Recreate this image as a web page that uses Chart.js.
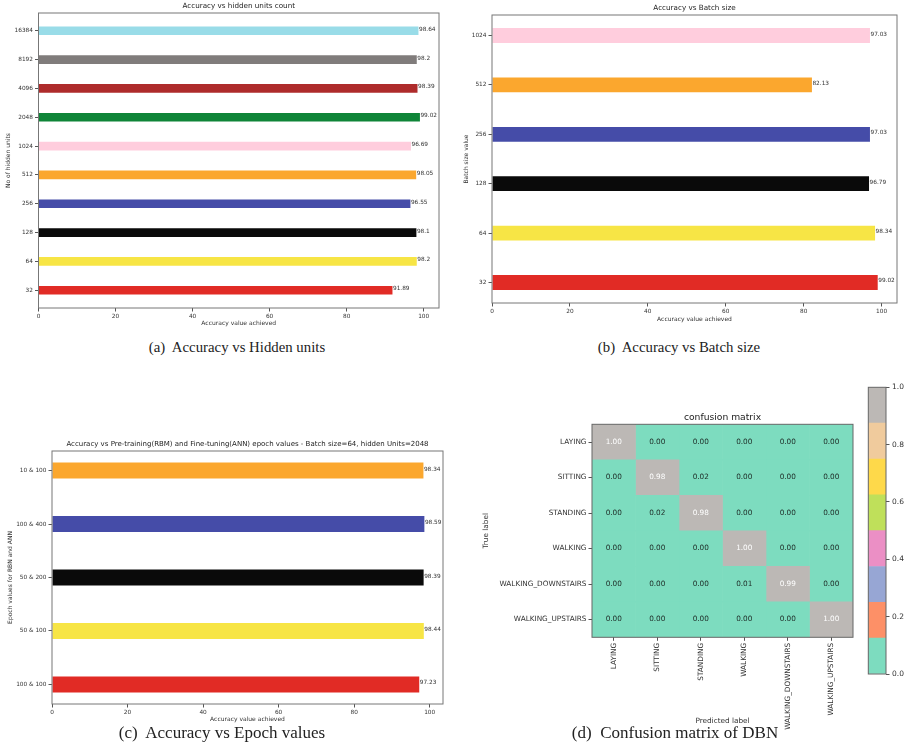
<!DOCTYPE html>
<html>
<head>
<meta charset="utf-8">
<script src="https://cdn.jsdelivr.net/npm/chart.js@4.4.0/dist/chart.umd.min.js"></script>
<style>
  body { margin: 0; background: #fff; width: 907px; height: 749px; position: relative; overflow: hidden; }
  .pane { position: absolute; }
  .cap { position: absolute; font-family: "Liberation Serif", serif; color: #222; white-space: pre; transform: translate(-50%, -50%); }
</style>
</head>
<body>
<div class="pane" style="left:0;top:0;width:450px;height:330px"><canvas id="chartUnits"></canvas></div>
<div class="pane" style="left:450px;top:0;width:457px;height:326px"><canvas id="chartBatch"></canvas></div>
<div class="pane" style="left:0;top:430px;width:450px;height:296px"><canvas id="chartEpoch"></canvas></div>
<div class="pane" style="left:470px;top:380px;width:390px;height:350px"><canvas id="chartMatrix"></canvas></div>
<div class="pane" style="left:860px;top:370px;width:47px;height:320px"><canvas id="chartCbar"></canvas></div>

<div class="cap" style="left:237px;top:347px;font-size:14.8px">(a)  Accuracy vs Hidden units</div>
<div class="cap" style="left:679px;top:347px;font-size:14.8px">(b)  Accuracy vs Batch size</div>
<div class="cap" style="left:222px;top:733px;font-size:17px">(c)  Accuracy vs Epoch values</div>
<div class="cap" style="left:675px;top:733px;font-size:17px">(d)  Confusion matrix of DBN</div>

<script>
// données
const unitLabels = ['32', '64', '128', '256', '512', '1024', '2048', '4096', '8192', '16384'];
const unitAcc = [91.89, 98.2, 98.1, 96.55, 98.05, 96.69, 99.02, 98.39, 98.2, 98.64];
const unitColors = ['#e12b25', '#f7e545', '#0a0a0a', '#454ca8', '#fba72e', '#ffcddd', '#0f8538', '#ae2b2b', '#807c7b', '#99dce8'];

const batchLabels = ['32', '64', '128', '256', '512', '1024'];
const batchAcc = [99.02, 98.34, 96.79, 97.03, 82.13, 97.03];
const batchColors = ['#e12b25', '#f7e545', '#0a0a0a', '#454ca8', '#fba72e', '#ffcddd'];

const epochLabels = ['100 & 100', '50 & 100', '50 & 200', '100 & 400', '10 & 100'];
const epochAcc = [97.23, 98.44, 98.39, 98.59, 98.34];
const epochColors = ['#e12b25', '#f7e545', '#0a0a0a', '#454ca8', '#fba72e'];

const cmLabels = ['LAYING', 'SITTING', 'STANDING', 'WALKING', 'WALKING_DOWNSTAIRS', 'WALKING_UPSTAIRS'];
const cmValues = [
  [1.00, 0.00, 0.00, 0.00, 0.00, 0.00],
  [0.00, 0.98, 0.02, 0.00, 0.00, 0.00],
  [0.00, 0.02, 0.98, 0.00, 0.00, 0.00],
  [0.00, 0.00, 0.00, 1.00, 0.00, 0.00],
  [0.00, 0.00, 0.00, 0.01, 0.99, 0.00],
  [0.00, 0.00, 0.00, 0.00, 0.00, 1.00]
];
const cellWidth = [1, 1, 1, 1, 1, 1];
// palette Set2 (8 niveaux)
const cmColors = ['#7ddcbf', '#fd9067', '#97a6d4', '#eb8fc5', '#bfe05a', '#fed94a', '#f0cb9d', '#bcb8b5'];
const cbarEdges = [0, 0.125, 0.25, 0.375, 0.5, 0.625, 0.75, 0.875, 1];

const FONT = '"DejaVu Sans", sans-serif';
const INK = '#333';

// cadre autour de la zone de tracé
const frame = {
  id: 'frame',
  afterDatasetsDraw(chart, args, opts) {
    const a = chart.chartArea, c = chart.ctx;
    c.save();
    c.strokeStyle = opts.color || '#777';
    c.lineWidth = 1;
    c.strokeRect(a.left, a.top, a.right - a.left, a.bottom - a.top);
    c.restore();
  }
};

const plotTitle = {
  id: 'plotTitle',
  afterDraw(chart, args, opts) {
    if (!opts.text) return;
    const a = chart.chartArea, c = chart.ctx;
    c.save();
    c.font = opts.size + 'px ' + FONT;
    c.fillStyle = '#222';
    c.textAlign = 'center';
    c.textBaseline = 'middle';
    c.fillText(opts.text, (a.left + a.right) / 2, a.top - opts.offset);
    c.restore();
  }
};

const barValues = {
  id: 'barValues',
  afterDatasetsDraw(chart) {
    const c = chart.ctx, ds = chart.data.datasets[0];
    c.save();
    c.font = '5.8px ' + FONT;
    c.fillStyle = INK;
    c.textBaseline = 'alphabetic';
    chart.getDatasetMeta(0).data.forEach((bar, i) => {
      c.fillText(String(ds.data[i].x), bar.x + 0.5, bar.y);
    });
    c.restore();
  }
};

const tickGrid = { drawOnChartArea: false, drawTicks: true, tickLength: 3.5, color: '#555', offset: false };

function accuracyChart(id, labels, values, colors, o) {
  const pad = 0.15 + 0.05 * (labels.length - 1 + 0.3);
  return new Chart(document.getElementById(id), {
    type: 'bar',
    data: {
      datasets: [{
        data: values.map((v, i) => ({ x: v, y: i })),
        backgroundColor: colors,
        barPercentage: 0.3,
        categoryPercentage: 1,
        borderWidth: 0
      }]
    },
    options: {
      indexAxis: 'y',
      responsive: true,
      maintainAspectRatio: false,
      animation: false,
      layout: { padding: o.padding },
      plugins: {
        legend: { display: false },
        tooltip: { enabled: false },
        plotTitle: { text: o.title, offset: o.titleOffset, size: o.titleSize || 7.2 }
      },
      scales: {
        x: {
          type: 'linear', bounds: 'data', offset: false, min: 0, max: Math.max(...values) * 1.05,
          ticks: { stepSize: 20, includeBounds: false, font: { family: FONT, size: 5.8 }, color: INK, padding: 1.5 },
          grid: tickGrid,
          border: { display: false },
          title: { display: true, text: 'Accuracy value achieved', font: { family: FONT, size: 6 }, color: INK, padding: { top: 0, bottom: 3.4 } },
          afterFit: s => { s.height = o.xHeight; }
        },
        y: {
          type: 'linear', bounds: 'data', offset: false, min: -pad, max: labels.length - 1 + pad,
          afterBuildTicks: s => { s.ticks = labels.map((l, i) => ({ value: i })); },
          ticks: {
            autoSkip: false,
            font: { family: FONT, size: 5.8 }, color: INK, padding: 2,
            callback: v => labels[v] ?? ''
          },
          grid: tickGrid,
          border: { display: false },
          title: { display: true, text: o.yTitle, font: { family: FONT, size: 6 }, color: INK, padding: { top: o.yTitlePad, bottom: 0 } },
          afterFit: s => { s.width = o.yWidth; }
        }
      }
    },
    plugins: [frame, plotTitle, barValues]
  });
}

accuracyChart('chartUnits', unitLabels, unitAcc, unitColors, {
  title: 'Accuracy vs hidden units count', titleOffset: 7,
  yTitle: 'No of hidden units', yTitlePad: 4.9,
  padding: { left: 0, top: 13, right: 11, bottom: 0 }, yWidth: 38.5, xHeight: 22
});

accuracyChart('chartBatch', batchLabels, batchAcc, batchColors, {
  title: 'Accuracy vs Batch size', titleOffset: 7.3,
  yTitle: 'Batch size value', yTitlePad: 12.4,
  padding: { left: 0, top: 15, right: 10, bottom: 0 }, yWidth: 42, xHeight: 23
});

accuracyChart('chartEpoch', epochLabels, epochAcc, epochColors, {
  title: 'Accuracy vs Pre-training(RBM) and Fine-tuning(ANN) epoch values - Batch size=64, hidden Units=2048', titleOffset: 6.7, titleSize: 7,
  yTitle: 'Epoch values for RBN and ANN', yTitlePad: 6.4,
  padding: { left: 0, top: 21, right: 7, bottom: 0 }, yWidth: 52, xHeight: 22
});

// Matrice de confusion
function cmapColor(v) {
  return cmColors[Math.min(cmColors.length - 1, Math.floor(v * cmColors.length))];
}

const cellText = {
  id: 'cellText',
  afterDatasetsDraw(chart) {
    const c = chart.ctx;
    c.save();
    c.font = '7.3px ' + FONT;
    c.textAlign = 'center';
    c.textBaseline = 'middle';
    chart.data.datasets.forEach((ds, j) => {
      chart.getDatasetMeta(j).data.forEach((bar, i) => {
        const v = cmValues[i][j];
        c.fillStyle = v > 0.5 ? '#ffffff' : '#1d2b26';
        c.fillText(v.toFixed(2), (bar.x + bar.base) / 2, bar.y);
      });
    });
    c.restore();
  }
};

new Chart(document.getElementById('chartMatrix'), {
  type: 'bar',
  data: {
    labels: cmLabels,
    datasets: cmLabels.map((pred, j) => ({
      label: pred,
      data: cellWidth,
      backgroundColor: cmValues.map(row => cmapColor(row[j])),
      barPercentage: 1,
      categoryPercentage: 1,
      borderWidth: 0
    }))
  },
  options: {
    indexAxis: 'y',
    responsive: true,
    maintainAspectRatio: false,
    animation: false,
    layout: { padding: { left: 0, top: 44.3, right: 7, bottom: 0 } },
    plugins: {
      legend: { display: false },
      tooltip: { enabled: false },
      plotTitle: { text: 'confusion matrix', offset: 6.6, size: 9.2 },
      frame: { color: '#666' }
    },
    scales: {
      x: { type: 'linear', stacked: true, min: 0, max: cmLabels.length, display: false },
      y: {
        type: 'category', stacked: true, offset: true,
        grid: tickGrid,
        border: { display: false },
        ticks: { font: { family: FONT, size: 7.3 }, color: INK, padding: 2 },
        title: { display: true, text: 'True label', font: { family: FONT, size: 7.3 }, color: INK, padding: { top: 11.6, bottom: 0 } },
        afterFit: s => { s.width = 122; }
      },
      xl: {
        type: 'category', labels: cmLabels, position: 'bottom', offset: true,
        grid: tickGrid,
        border: { display: false },
        ticks: { minRotation: 90, maxRotation: 90, autoSkip: false, font: { family: FONT, size: 7.3 }, color: INK, padding: 2 },
        title: { display: true, text: 'Predicted label', font: { family: FONT, size: 7.3 }, color: INK, padding: { top: 0, bottom: 4.9 } },
        afterFit: s => { s.height = 92.7; }
      }
    }
  },
  plugins: [frame, plotTitle, cellText]
});

// Barre de couleurs
new Chart(document.getElementById('chartCbar'), {
  type: 'bar',
  data: {
    labels: [''],
    datasets: cmColors.map((col, k) => ({
      data: [[cbarEdges[k], cbarEdges[k + 1]]],
      backgroundColor: col,
      barPercentage: 1,
      categoryPercentage: 1,
      grouped: false,
      borderWidth: 0
    }))
  },
  options: {
    responsive: true,
    maintainAspectRatio: false,
    animation: false,
    layout: { padding: { left: 8.3, top: 17.3, right: 0, bottom: 16 } },
    plugins: { legend: { display: false }, tooltip: { enabled: false }, frame: { color: '#666' } },
    scales: {
      x: { display: false },
      y: {
        position: 'right', min: 0, max: 1,
        ticks: { stepSize: 0.2, font: { family: FONT, size: 7.5 }, color: INK, padding: 2.5, callback: v => v.toFixed(1) },
        grid: tickGrid,
        border: { display: false },
        afterFit: s => { s.width = 21; }
      }
    }
  },
  plugins: [frame]
});
</script>
</body>
</html>
